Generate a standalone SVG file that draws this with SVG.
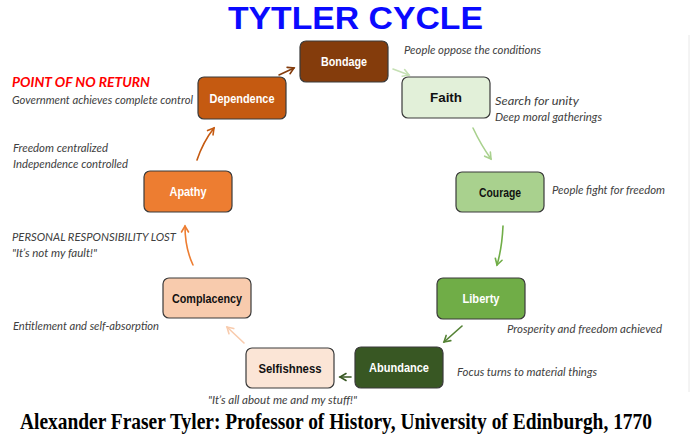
<svg xmlns="http://www.w3.org/2000/svg" width="690" height="445" viewBox="0 0 690 445">
<style>
.box{stroke:#3a3a3a;stroke-width:1.2}
.lbl{font-family:"Liberation Sans",Arial,sans-serif;font-weight:bold;font-size:13px;text-anchor:middle}
.w{fill:#ffffff}
.k{fill:#111111}
.note{font-family:Lato,"Open Sans",sans-serif;font-style:italic;font-size:11.5px;fill:#404040}
.arr{fill:none;stroke-width:1.6;stroke-linecap:round}
</style>
<defs>
<marker id="m1" markerUnits="userSpaceOnUse" markerWidth="10" markerHeight="10" refX="8" refY="5" orient="auto"><path d="M2,1.5 L8,5 L2,8.5" fill="none" stroke="#843c0c" stroke-width="1.6" stroke-linecap="round"/></marker>
<marker id="m2" markerUnits="userSpaceOnUse" markerWidth="10" markerHeight="10" refX="8" refY="5" orient="auto"><path d="M2,1.5 L8,5 L2,8.5" fill="none" stroke="#c5e0b4" stroke-width="1.6" stroke-linecap="round"/></marker>
<marker id="m3" markerUnits="userSpaceOnUse" markerWidth="10" markerHeight="10" refX="8" refY="5" orient="auto"><path d="M2,1.5 L8,5 L2,8.5" fill="none" stroke="#a9d18e" stroke-width="1.6" stroke-linecap="round"/></marker>
<marker id="m4" markerUnits="userSpaceOnUse" markerWidth="10" markerHeight="10" refX="8" refY="5" orient="auto"><path d="M2,1.5 L8,5 L2,8.5" fill="none" stroke="#70ad47" stroke-width="1.6" stroke-linecap="round"/></marker>
<marker id="m5" markerUnits="userSpaceOnUse" markerWidth="10" markerHeight="10" refX="8" refY="5" orient="auto"><path d="M2,1.5 L8,5 L2,8.5" fill="none" stroke="#548235" stroke-width="1.6" stroke-linecap="round"/></marker>
<marker id="m6" markerUnits="userSpaceOnUse" markerWidth="10" markerHeight="10" refX="8" refY="5" orient="auto"><path d="M2,1.5 L8,5 L2,8.5" fill="none" stroke="#385723" stroke-width="1.6" stroke-linecap="round"/></marker>
<marker id="m7" markerUnits="userSpaceOnUse" markerWidth="10" markerHeight="10" refX="8" refY="5" orient="auto"><path d="M2,1.5 L8,5 L2,8.5" fill="none" stroke="#f8cbad" stroke-width="1.6" stroke-linecap="round"/></marker>
<marker id="m8" markerUnits="userSpaceOnUse" markerWidth="10" markerHeight="10" refX="8" refY="5" orient="auto"><path d="M2,1.5 L8,5 L2,8.5" fill="none" stroke="#ed7d31" stroke-width="1.6" stroke-linecap="round"/></marker>
<marker id="m9" markerUnits="userSpaceOnUse" markerWidth="10" markerHeight="10" refX="8" refY="5" orient="auto"><path d="M2,1.5 L8,5 L2,8.5" fill="none" stroke="#c55a11" stroke-width="1.6" stroke-linecap="round"/></marker>
</defs>
<rect x="0" y="0" width="690" height="445" fill="#ffffff"/>
<line x1="689" y1="35" x2="689" y2="392" stroke="#e8e8e8" stroke-width="1"/>
<text x="355.5" y="29" font-family="'Liberation Sans',Arial,sans-serif" font-weight="bold" font-size="31" fill="#0a0aff" text-anchor="middle" textLength="255" lengthAdjust="spacingAndGlyphs">TYTLER CYCLE</text>

<g id="connectors">
<path class="arr" d="M279,75 L294,68" stroke="#843c0c" marker-end="url(#m1)"/>
<path class="arr" d="M393,69 L409,75" stroke="#c5e0b4" marker-end="url(#m2)"/>
<path class="arr" d="M473,128 Q481,145 491,159" stroke="#a9d18e" marker-end="url(#m3)"/>
<path class="arr" d="M503,226 Q502,248 497,265" stroke="#70ad47" marker-end="url(#m4)"/>
<path class="arr" d="M462,326 L444,342" stroke="#548235" marker-end="url(#m5)"/>
<path class="arr" d="M351,377 L340,377" stroke="#385723" marker-end="url(#m6)"/>
<path class="arr" d="M244,343 L227,327" stroke="#f8cbad" marker-end="url(#m7)"/>
<path class="arr" d="M193,265 Q185,248 185,226" stroke="#ed7d31" marker-end="url(#m8)"/>
<path class="arr" d="M197,160 Q203,142 214,128" stroke="#c55a11" marker-end="url(#m9)"/>
</g>

<g id="bondage">
<rect class="box" x="300" y="41" width="88" height="41" rx="6" fill="#843c0c"/>
<text class="lbl w" x="344" y="66" textLength="46" lengthAdjust="spacingAndGlyphs">Bondage</text>
</g>
<g id="faith">
<rect class="box" x="402" y="77" width="88" height="41" rx="6" fill="#e2f0d9"/>
<text class="lbl k" x="446" y="102" textLength="32" lengthAdjust="spacingAndGlyphs">Faith</text>
</g>
<g id="courage">
<rect class="box" x="456" y="172" width="88" height="40" rx="6" fill="#a9d18e"/>
<text class="lbl k" x="500" y="197" textLength="42" lengthAdjust="spacingAndGlyphs">Courage</text>
</g>
<g id="liberty">
<rect class="box" x="437" y="278" width="88" height="41" rx="6" fill="#70ad47"/>
<text class="lbl w" x="481" y="303" textLength="37" lengthAdjust="spacingAndGlyphs">Liberty</text>
</g>
<g id="abundance">
<rect class="box" x="355" y="347" width="88" height="41" rx="6" fill="#385723"/>
<text class="lbl w" x="399" y="372" textLength="60" lengthAdjust="spacingAndGlyphs">Abundance</text>
</g>
<g id="selfishness">
<rect class="box" x="246" y="348" width="88" height="40" rx="6" fill="#fbe5d6"/>
<text class="lbl k" x="290" y="373" textLength="63" lengthAdjust="spacingAndGlyphs">Selfishness</text>
</g>
<g id="complacency">
<rect class="box" x="163" y="278" width="88" height="40" rx="6" fill="#f8cbad"/>
<text class="lbl k" x="207" y="303" textLength="70" lengthAdjust="spacingAndGlyphs">Complacency</text>
</g>
<g id="apathy">
<rect class="box" x="144" y="171" width="88" height="41" rx="6" fill="#ed7d31"/>
<text class="lbl w" x="188" y="196" textLength="37" lengthAdjust="spacingAndGlyphs">Apathy</text>
</g>
<g id="dependence">
<rect class="box" x="198" y="77" width="88" height="42" rx="6" fill="#c55a11"/>
<text class="lbl w" x="242" y="103" textLength="65" lengthAdjust="spacingAndGlyphs">Dependence</text>
</g>

<g id="notes">
<text class="note" x="404" y="54" textLength="137" lengthAdjust="spacingAndGlyphs">People oppose the conditions</text>
<text class="note" x="495" y="105" textLength="84" lengthAdjust="spacingAndGlyphs">Search for unity</text>
<text class="note" x="495" y="121" textLength="107" lengthAdjust="spacingAndGlyphs">Deep moral gatherings</text>
<text class="note" x="552" y="194" textLength="113" lengthAdjust="spacingAndGlyphs">People fight for freedom</text>
<text class="note" x="507" y="333" textLength="155" lengthAdjust="spacingAndGlyphs">Prosperity and freedom achieved</text>
<text class="note" x="457" y="376" textLength="140" lengthAdjust="spacingAndGlyphs">Focus turns to material things</text>
<text class="note" x="208" y="404" textLength="149" lengthAdjust="spacingAndGlyphs">"It’s all about me and my stuff!"</text>
<text class="note" x="13" y="330" textLength="146" lengthAdjust="spacingAndGlyphs">Entitlement and self-absorption</text>
<text class="note" x="12" y="241" textLength="164" lengthAdjust="spacingAndGlyphs">PERSONAL RESPONSIBILITY LOST</text>
<text class="note" x="12" y="257" textLength="85" lengthAdjust="spacingAndGlyphs">"It’s not my fault!"</text>
<text class="note" x="13" y="152" textLength="95" lengthAdjust="spacingAndGlyphs">Freedom centralized</text>
<text class="note" x="13" y="168" textLength="115" lengthAdjust="spacingAndGlyphs">Independence controlled</text>
<text x="12" y="87" font-family="Lato,'Open Sans',sans-serif" font-style="italic" font-weight="bold" font-size="12.5" fill="#ff0000" textLength="138" lengthAdjust="spacingAndGlyphs">POINT OF NO RETURN</text>
<text class="note" x="12" y="104" textLength="181" lengthAdjust="spacingAndGlyphs">Government achieves complete control</text>
</g>

<text x="20" y="429" font-family="'Liberation Serif','Times New Roman',serif" font-weight="bold" font-size="23" fill="#000000" textLength="632" lengthAdjust="spacingAndGlyphs">Alexander Fraser Tyler: Professor of History, University of Edinburgh, 1770</text>
</svg>
